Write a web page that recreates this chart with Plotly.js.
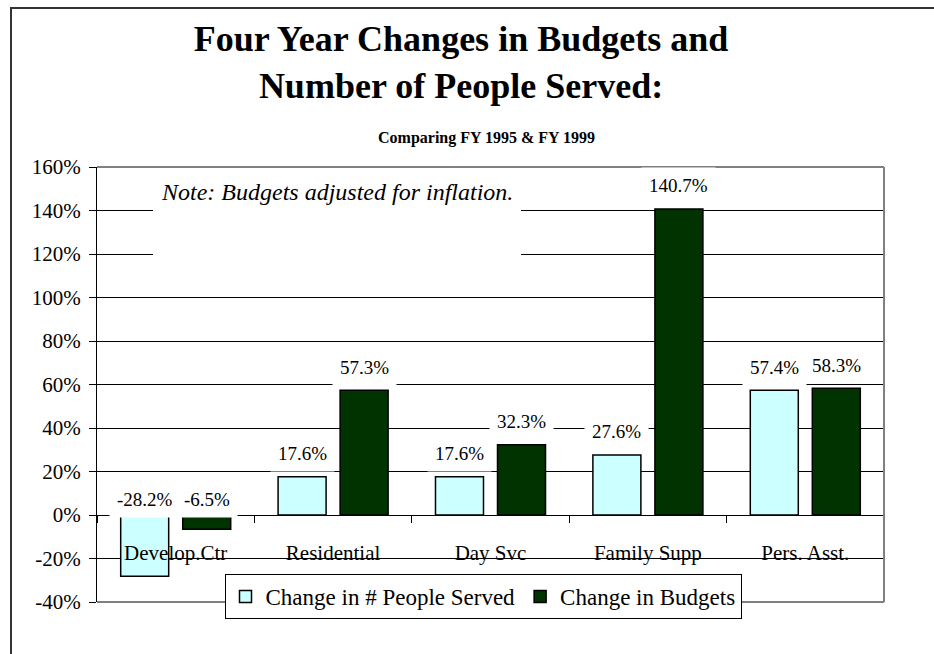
<!DOCTYPE html>
<html>
<head>
<meta charset="utf-8">
<script src="https://cdn.plot.ly/plotly-3.0.1.min.js"></script>
<style>
  html, body { margin: 0; padding: 0; background: #ffffff; }
  #chart { width: 934px; height: 654px; }
</style>
</head>
<body>
<div id="chart"></div>
<script>
// ---- Data ----
const categories = ['Develop.Ctr', 'Residential', 'Day Svc', 'Family Supp', 'Pers. Asst.'];
const peopleServed = [-28.2, 17.6, 17.6, 27.6, 57.4];
const budgets = [-6.5, 57.3, 32.3, 140.7, 58.3];
const seriesNames = ['Change in # People Served', 'Change in Budgets'];
const yTickVals = [-40, -20, 0, 20, 40, 60, 80, 100, 120, 140, 160];
const yTickText = ['-40%', '-20%', '0%', '20%', '40%', '60%', '80%', '100%', '120%', '140%', '160%'];
const titleText = 'Four Year Changes in Budgets and<br>Number of People Served:';
const subtitleText = 'Comparing FY 1995 &amp; FY 1999';
const noteText = 'Note: Budgets adjusted for inflation.';

// ---- Styling ----
const FONT = 'Times New Roman, Liberation Serif, serif';
const lightColor = '#CCFFFF';
const darkColor = '#003300';
const bargap = 0.212;
const bargroupgap = 0.226;

const W = 934, H = 654;
const M = { l: 97, r: 50, t: 167, b: 52 };
const plotW = W - M.l - M.r, plotH = H - M.t - M.b;
const px2x = (px) => (px - M.l) / plotW;
const py2y = (py) => (H - M.b - py) / plotH;

const traces = [
  {
    type: 'bar', name: seriesNames[0], x: categories, y: peopleServed,
    marker: { color: lightColor, line: { color: '#000000', width: 1.5 } },
    hoverinfo: 'none'
  },
  {
    type: 'bar', name: seriesNames[1], x: categories, y: budgets,
    marker: { color: darkColor, line: { color: '#000000', width: 1.5 } },
    hoverinfo: 'none'
  }
];

// Data labels, positioned from the data values
const off = (1 - bargap) / 4;
const labelAnn = [];
[peopleServed, budgets].forEach((series, s) => {
  series.forEach((v, i) => {
    labelAnn.push({
      xref: 'x', yref: 'y',
      x: i + (s === 0 ? -off : off),
      y: Math.max(v, 0),
      yanchor: 'middle', xanchor: 'center',
      yshift: v >= 0 ? 23 : 16,
      text: v.toFixed(1) + '%',
      showarrow: false,
      bgcolor: '#ffffff', borderpad: 7,
      font: { family: FONT, size: 19, color: '#000000' }
    });
  });
});

const layout = {
  width: W, height: H,
  margin: { l: M.l, r: M.r, t: M.t, b: M.b, autoexpand: false },
  paper_bgcolor: '#ffffff', plot_bgcolor: '#ffffff',
  font: { family: FONT, color: '#000000' },
  title: {
    text: titleText,
    font: { family: FONT, size: 36, weight: 'bold', color: '#000000' },
    xref: 'container', x: 0.4936, xanchor: 'center',
    yref: 'container', y: 1 - 51 / H, yanchor: 'top'
  },
  barmode: 'group', bargap: bargap, bargroupgap: bargroupgap,
  showlegend: true,
  legend: {
    orientation: 'h', x: px2x(483), y: py2y(574), xanchor: 'center', yanchor: 'top',
    bgcolor: '#ffffff', bordercolor: '#000000', borderwidth: 1,
    font: { family: FONT, size: 23, color: '#000000' },
    itemwidth: 30, traceorder: 'normal'
  },
  xaxis: {
    type: 'category', anchor: 'free', position: py2y(515),
    showline: true, linecolor: '#000000', linewidth: 1,
    ticks: 'outside', tickson: 'boundaries', ticklen: 7, tickcolor: '#000000',
    showgrid: false, zeroline: false,
    tickfont: { family: FONT, size: 21, color: '#000000' },
    ticklabelstandoff: 19,
    fixedrange: true
  },
  yaxis: {
    range: [-40, 160], tickmode: 'array', tickvals: yTickVals, ticktext: yTickText,
    showline: true, linecolor: '#000000', linewidth: 1,
    ticks: 'outside', ticklen: 7, tickcolor: '#000000',
    showgrid: true, gridcolor: '#000000', gridwidth: 1,
    zeroline: false,
    tickfont: { family: FONT, size: 21, color: '#000000' },
    ticklabelstandoff: 4,
    fixedrange: true
  },
  shapes: [
    // outer chart border (top and left visible)
    { type: 'rect', xref: 'paper', yref: 'paper', x0: px2x(11), x1: px2x(W + 20), y0: py2y(H + 20), y1: py2y(8),
      line: { color: '#333333', width: 2 }, fillcolor: 'rgba(0,0,0,0)', layer: 'below' },
    // white box behind the note
    { type: 'rect', xref: 'paper', yref: 'paper', x0: px2x(153), x1: px2x(521), y0: py2y(266), y1: py2y(171),
      line: { width: 0 }, fillcolor: '#ffffff', layer: 'above' },
    // plot-area border: top, right, bottom
    { type: 'line', xref: 'paper', yref: 'paper', x0: 0, x1: 1, y0: 1, y1: 1, line: { color: '#808080', width: 2 }, layer: 'above' },
    { type: 'line', xref: 'paper', yref: 'paper', x0: 1, x1: 1, y0: 0, y1: 1, line: { color: '#808080', width: 2 }, layer: 'above' },
    { type: 'line', xref: 'paper', yref: 'paper', x0: 0, x1: 1, y0: 0, y1: 0, line: { color: '#808080', width: 2 }, layer: 'above' }
  ],
  annotations: [
    { xref: 'paper', yref: 'paper', x: px2x(486.5), y: py2y(138), xanchor: 'center', yanchor: 'middle',
      text: subtitleText, showarrow: false,
      font: { family: FONT, size: 16, weight: 'bold', color: '#000000' } },
    { xref: 'paper', yref: 'paper', x: px2x(159), y: py2y(192), xanchor: 'left', yanchor: 'middle',
      text: noteText, showarrow: false,
      font: { family: FONT, size: 24, style: 'italic', color: '#000000' } }
  ].concat(labelAnn)
};

Plotly.newPlot('chart', traces, layout, { staticPlot: true, displayModeBar: false });
</script>
</body>
</html>
